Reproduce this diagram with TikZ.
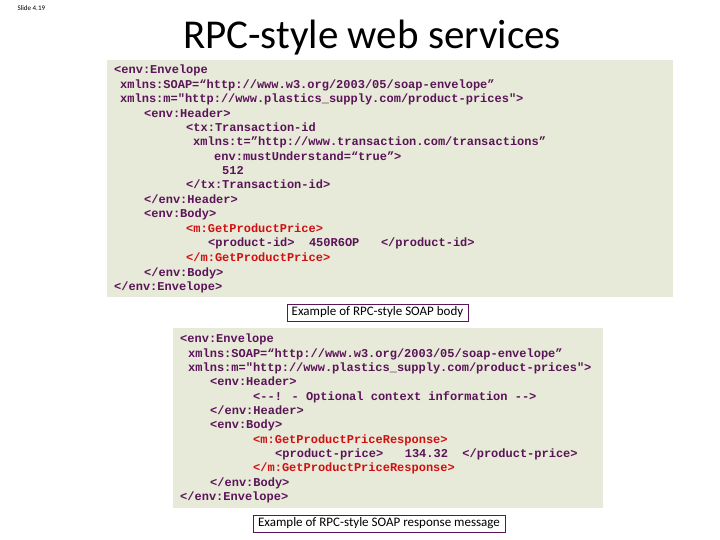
\documentclass[tikz,border=0pt]{standalone}
\usepackage{fontspec}
\setmainfont{Carlito}
\newfontfamily\codefont{Liberation Mono}
\definecolor{codebg}{HTML}{E8EAD9}
\definecolor{codefg}{HTML}{5A1458}
\definecolor{codered}{HTML}{D01010}
\definecolor{capframe}{HTML}{5A1458}
\begin{document}
\begin{tikzpicture}[x=1pt,y=-1pt,
  code/.style={anchor=base west,yshift=-4pt,inner sep=0pt,font=\codefont\bfseries\fontsize{12}{12}\selectfont,text=codefg},
  redcode/.style={code,text=codered},
  capbox/.style={draw=capframe,fill=white,inner xsep=5pt,inner ysep=3pt,font=\fontsize{13}{15}\selectfont},
  bg/.style={fill=codebg,draw=none}]
\useasboundingbox (0,0) rectangle (720,540);
\node[anchor=west,font=\fontsize{7}{8}\selectfont] (slide) at (14,8) {Slide 4.19};
\node[font=\fontsize{41}{44}\selectfont] (title) at (372,38) {RPC-style web services};
\fill[bg] (107,60) rectangle (673,297);
\node[code] (a1) at (114,70) {<env:Envelope};
\node[code] (a2) at (120,85) {xmlns:SOAP=“http://www.w3.org/2003/05/soap-envelope”};
\node[code] (a3) at (120,99) {xmlns:m="http://www.plastics\_supply.com/product-prices">};
\node[code] (a4) at (144,114) {<env:Header>};
\node[code] (a5) at (186,128) {<tx:Transaction-id};
\node[code] (a6) at (193,142) {xmlns:t=”http://www.transaction.com/transactions”};
\node[code] (a7) at (214,157) {env:mustUnderstand=“true”>};
\node[code] (a8) at (222,171) {512};
\node[code] (a9) at (186,185) {</tx:Transaction-id>};
\node[code] (a10) at (144,200) {</env:Header>};
\node[code] (a11) at (144,214) {<env:Body>};
\node[redcode] (a12) at (186,229) {<m:GetProductPrice>};
\node[code] (a13) at (208,243) {<product-id>\ \ 450R6OP\ \ \ </product-id>};
\node[redcode] (a14) at (186,257) {</m:GetProductPrice>};
\node[code] (a15) at (144,272) {</env:Body>};
\node[code] (a16) at (114,286) {</env:Envelope>};
\node[capbox] (c1) at (377.5,312.5) {Example of RPC-style SOAP body};
\fill[bg] (173,328) rectangle (603,508);
\node[code] (b1) at (180,338) {<env:Envelope};
\node[code] (b2) at (188,353) {xmlns:SOAP=“http://www.w3.org/2003/05/soap-envelope”};
\node[code] (b3) at (188,367) {xmlns:m="http://www.plastics\_supply.com/product-prices">};
\node[code] (b4) at (210,381) {<env:Header>};
\node[code] (b5) at (253,396) {<--! - Optional context information -->};
\node[code] (b6) at (210,410) {</env:Header>};
\node[code] (b7) at (210,424) {<env:Body>};
\node[redcode] (b8) at (253,439) {<m:GetProductPriceResponse>};
\node[code] (b9) at (275,453) {<product-price>\ \ \ 134.32\ \ </product-price>};
\node[redcode] (b10) at (253,467) {</m:GetProductPriceResponse>};
\node[code] (b11) at (210,482) {</env:Body>};
\node[code] (b12) at (180,496) {</env:Envelope>};
\node[capbox] (c2) at (379,523.5) {Example of RPC-style SOAP response message};
\end{tikzpicture}
\end{document}
